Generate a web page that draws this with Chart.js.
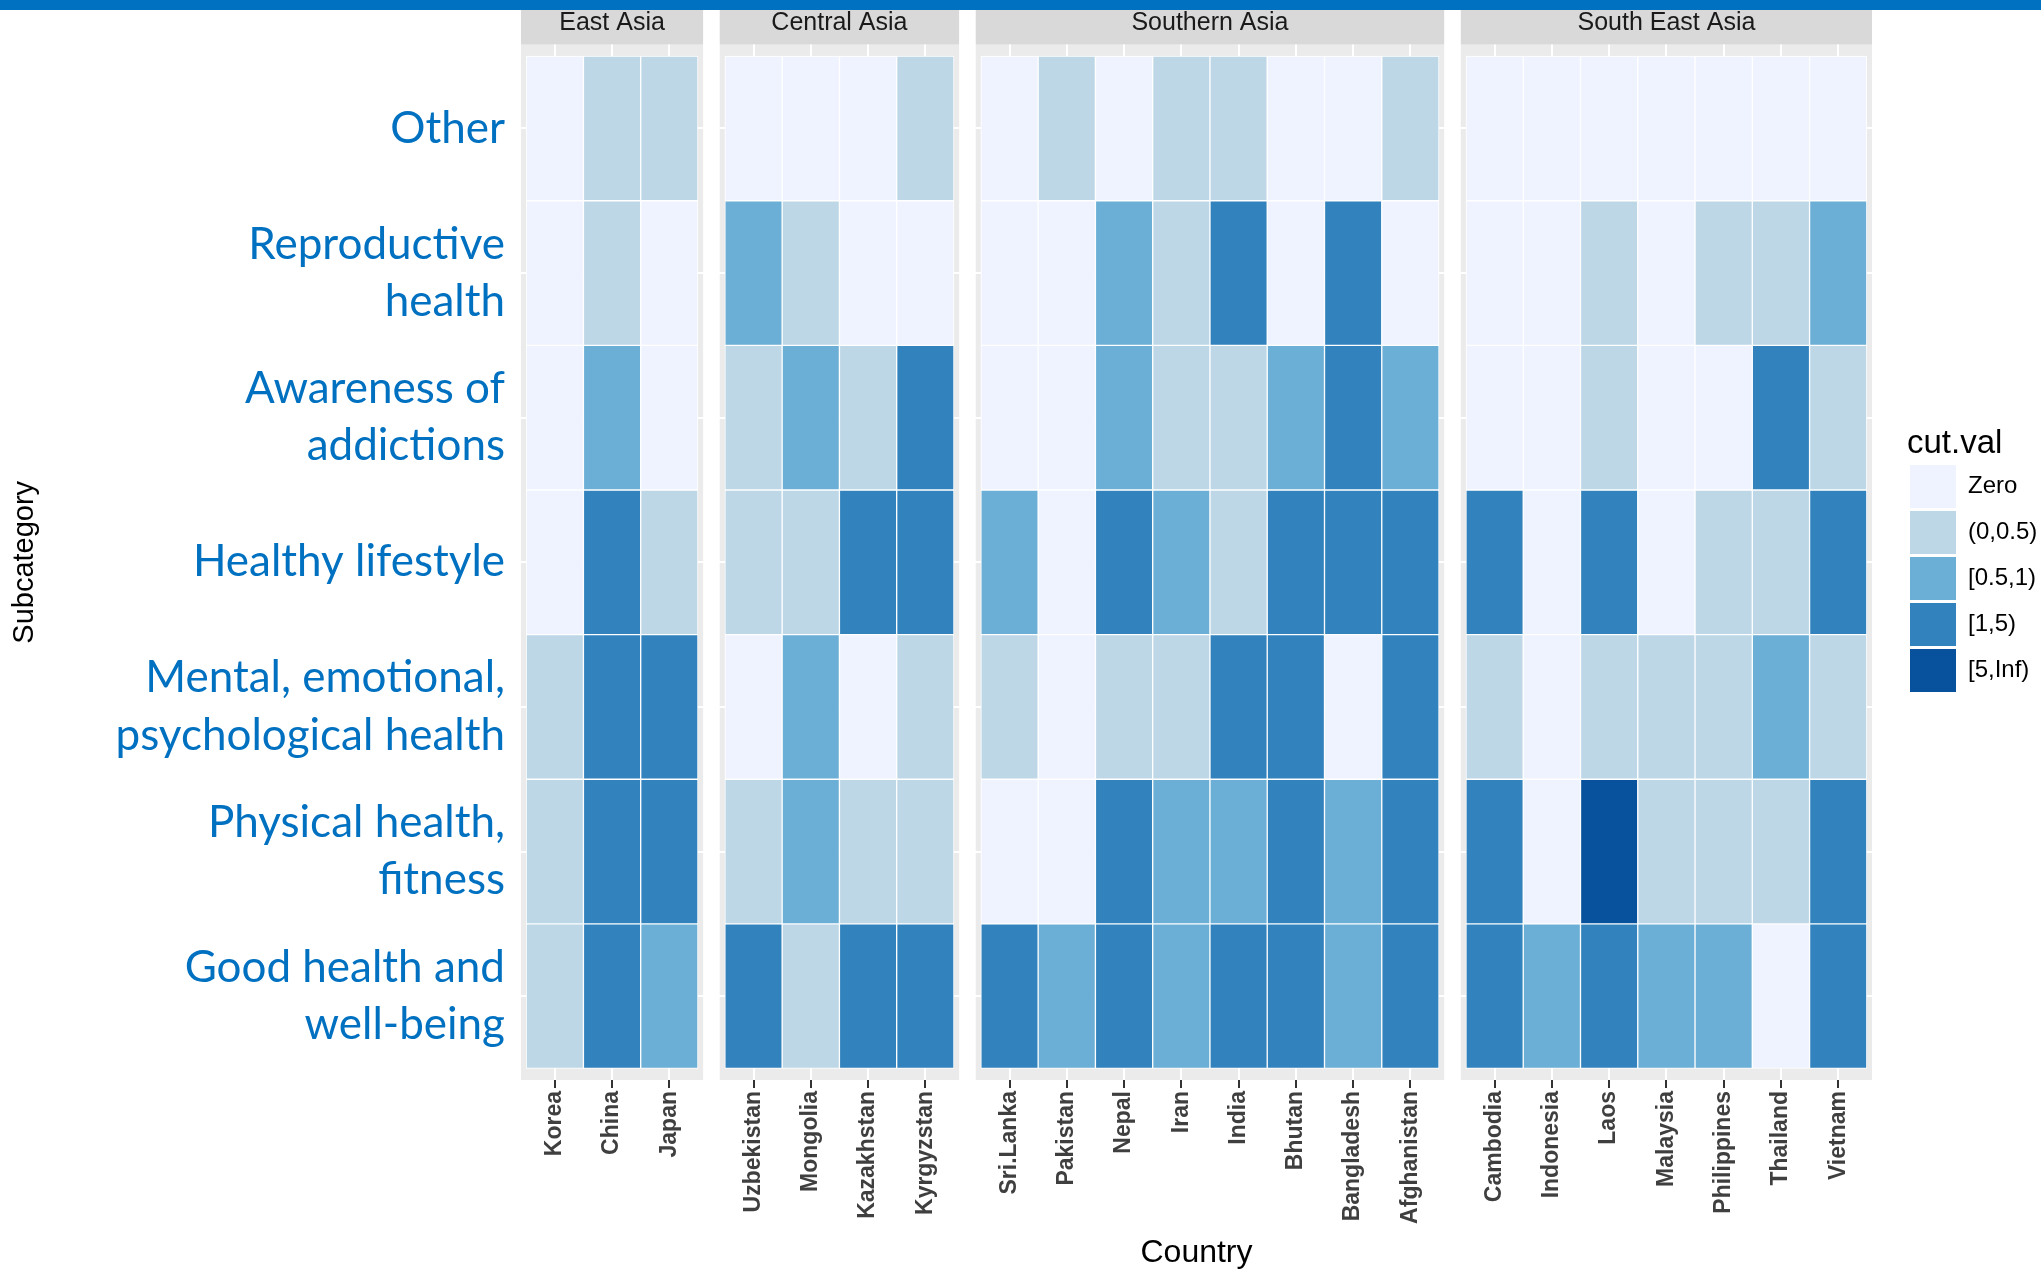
<!DOCTYPE html>
<html>
<head>
<meta charset="utf-8">
<script src="https://cdn.jsdelivr.net/npm/chart.js@4/dist/chart.umd.min.js"></script>
<style>
html, body { margin: 0; padding: 0; background: #ffffff; overflow: hidden; width: 2041px; height: 1272px; }
#main { position: absolute; left: 0; top: 0; }
#legend { position: absolute; left: 1907px; top: 427px; }
</style>
</head>
<body>
<canvas id="main" width="2041" height="1272"></canvas>
<canvas id="legend" width="320" height="270"></canvas>
<script>
// ---------------- data ----------------
const regions = ["East Asia", "Central Asia", "Southern Asia", "South East Asia"];
const regionSizes = [3, 4, 8, 7];
const countries = ["Korea", "China", "Japan",
  "Uzbekistan", "Mongolia", "Kazakhstan", "Kyrgyzstan",
  "Sri.Lanka", "Pakistan", "Nepal", "Iran", "India", "Bhutan", "Bangladesh", "Afghanistan",
  "Cambodia", "Indonesia", "Laos", "Malaysia", "Philippines", "Thailand", "Vietnam"];
const subcategories = [
  ["Other"],
  ["Reproductive", "health"],
  ["Awareness of", "addictions"],
  ["Healthy lifestyle"],
  ["Mental, emotional,", "psychological health"],
  ["Physical health,", "fitness"],
  ["Good health and", "well-being"]
];
const levelLabels = ["Zero", "(0,0.5)", "[0.5,1)", "[1,5)", "[5,Inf)"];
// level index per country: 0 = Zero, 1 = (0,0.5), 2 = [0.5,1), 3 = [1,5), 4 = [5,Inf)
const other        = [0,1,1, 0,0,0,1, 0,1,0,1,1,0,0,1, 0,0,0,0,0,0,0];
const reproductive = [0,1,0, 2,1,0,0, 0,0,2,1,3,0,3,0, 0,0,1,0,1,1,2];
const awareness    = [0,2,0, 1,2,1,3, 0,0,2,1,1,2,3,2, 0,0,1,0,0,3,1];
const lifestyle    = [0,3,1, 1,1,3,3, 2,0,3,2,1,3,3,3, 3,0,3,0,1,1,3];
const mental       = [1,3,3, 0,2,0,1, 1,0,1,1,3,3,0,3, 1,0,1,1,1,2,1];
const physical     = [1,3,3, 1,2,1,1, 0,0,3,2,2,3,2,3, 3,0,4,1,1,1,3];
const goodHealth   = [1,3,2, 3,1,3,3, 3,2,3,2,3,3,2,3, 3,2,3,2,2,0,3];
const rows = [other, reproductive, awareness, lifestyle, mental, physical, goodHealth];

// ---------------- style ----------------
const palette = ["#EFF3FF", "#BDD7E7", "#6BAED6", "#3182BD", "#08519C"];
const SANS = '"Liberation Sans", Arial, sans-serif';
const PAD = 0.09, GAP = 0.29, YPAD = 0.08;

// facet layout along one linear x scale
const xPos = [], panels = [];
let cur = 0;
regionSizes.forEach((n, k) => {
  const start = cur;
  cur += PAD;
  for (let j = 0; j < n; j++) { xPos.push(cur + 0.5); cur += 1; }
  cur += PAD;
  panels.push({ name: regions[k], start: start, end: cur });
  if (k < regionSizes.length - 1) cur += GAP;
});
const xMax = cur;
const nRows = subcategories.length;

const datasets = rows.map((lv, r) => ({
  label: subcategories[r].join(' '),
  data: countries.map((c, i) => ({ x: xPos[i], y: [nRows - 1 - r, nRows - r] })),
  backgroundColor: lv.map(l => palette[l]),
  borderColor: '#ffffff',
  borderWidth: 1,
  borderSkipped: false,
  barPercentage: 1,
  categoryPercentage: 1,
  grouped: false
}));

const facetPlugin = {
  id: 'facets',
  beforeDraw(chart) {
    const { ctx, chartArea: a, scales: { x } } = chart;
    ctx.save();
    ctx.fillStyle = '#0070C0';
    ctx.fillRect(0, 0, chart.width, 10);
    panels.forEach(p => {
      const l = x.getPixelForValue(p.start), r = x.getPixelForValue(p.end);
      ctx.fillStyle = '#EBEBEB';
      ctx.fillRect(l, a.top, r - l, a.bottom - a.top);
      ctx.fillStyle = '#D9D9D9';
      ctx.fillRect(l, 10, r - l, a.top - 10);
      ctx.fillStyle = '#1A1A1A';
      ctx.font = '25px ' + SANS;
      ctx.textAlign = 'center';
      ctx.textBaseline = 'alphabetic';
      ctx.fillText(p.name, (l + r) / 2, 30);
    });
    ctx.restore();
  }
};

new Chart(document.getElementById('main'), {
  type: 'bar',
  data: { datasets: datasets },
  options: {
    responsive: false,
    animation: false,
    devicePixelRatio: 1,
    events: [],
    layout: { padding: { top: 42, right: 169, bottom: 0, left: 0 } },
    plugins: { legend: { display: false }, tooltip: { enabled: false } },
    scales: {
      x: {
        type: 'linear', min: 0, max: xMax, offset: false,
        afterBuildTicks: s => { s.ticks = xPos.map(v => ({ value: v })); },
        afterFit: s => { s.height = 192; },
        grid: { offset: false, color: '#FFFFFF', lineWidth: 2, drawTicks: true, tickLength: 8, tickWidth: 2, tickColor: '#333333' },
        border: { display: false },
        ticks: {
          autoSkip: false, minRotation: 90, maxRotation: 90, padding: 3,
          color: '#3F3F3F',
          font: { family: SANS, size: 23, weight: 'bold' },
          callback: (v, i) => countries[i]
        },
        title: { display: true, text: 'Country', color: '#000000', font: { family: SANS, size: 32 }, padding: { top: 0, bottom: 0 } }
      },
      y: {
        type: 'linear', min: -YPAD, max: nRows + YPAD,
        afterBuildTicks: s => { s.ticks = subcategories.map((_, i) => ({ value: i + 0.5 })); },
        afterFit: s => { s.width = 521; },
        grid: { color: '#FFFFFF', lineWidth: 2, drawTicks: false },
        border: { display: false },
        ticks: {
          padding: 16, color: '#0070C0',
          font: { family: 'Lato, "Open Sans", sans-serif', size: 44, lineHeight: 1.3 },
          callback: (v, i) => subcategories[nRows - 1 - i]
        },
        title: { display: true, text: 'Subcategory', color: '#000000', font: { family: SANS, size: 29 }, padding: { top: 8, bottom: 0 } }
      }
    }
  },
  plugins: [facetPlugin]
});

new Chart(document.getElementById('legend'), {
  type: 'bar',
  data: { datasets: [] },
  options: {
    responsive: false,
    animation: false,
    devicePixelRatio: 1,
    events: [],
    layout: { padding: 0 },
    scales: { x: { display: false }, y: { display: false } },
    plugins: {
      tooltip: { enabled: false },
      legend: {
        display: true, position: 'left', align: 'start',
        title: { display: true, text: 'cut.val', color: '#000000', position: 'start',
                 font: { family: SANS, size: 33, lineHeight: 1 }, padding: { top: 0, bottom: 2 } },
        labels: {
          boxWidth: 46, boxHeight: 43, padding: 3, color: '#1A1A1A',
          font: { family: SANS, size: 24 },
          generateLabels: () => levelLabels.map((t, i) => ({
            text: t, fillStyle: palette[i], strokeStyle: palette[i], lineWidth: 0, hidden: false, datasetIndex: i
          }))
        }
      }
    }
  }
});
</script>
</body>
</html>
